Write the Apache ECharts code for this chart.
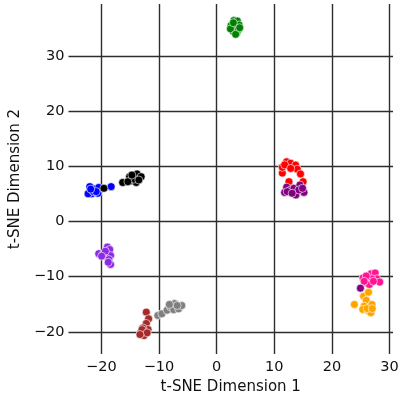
<!DOCTYPE html>
<html><head><meta charset="utf-8">
<script src="https://cdn.jsdelivr.net/npm/echarts@6/dist/echarts.min.js"></script>
<style>html,body{margin:0;padding:0;background:#fff}#c{width:403px;height:400px}</style>
</head><body><div id="c"></div>
<script>
const tickValues = [-20, -10, 0, 10, 20, 30];
const xRange = [-25.7, 30.6];
const yRange = [-24.05, 39.4];

const green = [[2.5,35.5],[3.0,36.4],[3.6,36.3],[3.9,35.6],[2.8,34.5],[3.5,34.2],[3.1,35.2],[2.4,34.9],[3.8,34.8],[3.3,33.9],[2.9,36.0],[4.0,35.1]];
const blue = [[-22.0,6.3],[-21.7,5.0],[-22.3,5.0],[-21.15,5.85],[-20.6,5.1],[-20.45,6.15],[-21.4,5.4],[-18.3,6.3],[-20.9,5.4],[-21.85,5.85]];
const black = [[-16.3,7.05],[-15.1,8.1],[-14.8,7.35],[-13.8,8.6],[-13.1,8.1],[-13.95,7.05],[-14.35,7.65],[-13.5,7.5],[-15.4,7.2],[-14.7,8.4],[-19.55,6.0]];
const violet = [[-20.45,-5.85],[-19.7,-6.0],[-18.95,-4.65],[-18.55,-5.1],[-18.4,-6.2],[-18.7,-6.9],[-18.4,-7.8],[-19.3,-5.4],[-19.95,-6.3],[-18.8,-7.4]];
const brown = [[-12.2,-16.45],[-11.8,-17.65],[-12.2,-18.5],[-11.9,-19.6],[-12.8,-19.3],[-13.2,-20.2],[-12.6,-20.7],[-12.95,-19.6],[-12.05,-20.2],[-13.3,-20.5]];
const gray = [[-10.2,-17.05],[-9.5,-16.75],[-8.6,-16.1],[-8.0,-15.5],[-7.3,-14.9],[-7.45,-16.0],[-6.6,-15.85],[-6.05,-15.25],[-6.85,-15.25],[-8.2,-15.05]];
const red = [[11.4,8.75],[11.4,9.8],[12.15,10.8],[12.85,10.55],[13.7,10.2],[14.0,9.45],[14.55,8.6],[15.0,7.2],[12.55,7.2],[11.8,10.25],[12.85,9.6]];
const purple = [[11.8,5.25],[12.15,6.2],[12.85,5.7],[13.4,6.0],[13.75,4.8],[14.45,6.6],[15.15,5.25],[14.25,5.7],[12.25,5.4],[13.1,5.1],[14.9,6.0],[24.95,-12.1]];
const pink = [[25.4,-10.25],[26.1,-11.15],[26.8,-9.5],[27.5,-9.35],[27.8,-10.4],[28.3,-11.0],[26.95,-10.4],[25.95,-9.9],[26.5,-11.45],[27.2,-10.85],[25.6,-10.85]];
const orange = [[23.9,-15.05],[25.5,-13.55],[26.35,-12.85],[25.95,-14.3],[25.6,-15.35],[25.35,-15.95],[26.35,-16.25],[26.95,-15.05],[26.75,-16.55],[26.1,-15.8],[27.0,-15.8]];

const groups = [
  ['green', green, '#008000'],
  ['blue', blue, '#0000ff'],
  ['black', black, '#000000'],
  ['violet', violet, '#8a2be2'],
  ['brown', brown, '#a52a2a'],
  ['gray', gray, '#808080'],
  ['red', red, '#ff0000'],
  ['purple', purple, '#800080'],
  ['pink', pink, '#ff1493'],
  ['orange', orange, '#ffa500']
];

const font = 'DejaVu Sans';
const fmt = v => (v < 0 ? '\u2212' + Math.abs(v) : String(v));
const axisCommon = {
  type: 'value',
  axisLine: {show: false},
  axisTick: {show: false, customValues: tickValues},
  splitLine: {show: true, lineStyle: {color: '#2e2e2e', width: 1.4}},
  nameLocation: 'middle',
  nameTextStyle: {fontFamily: font, fontSize: 15, color: '#111'}
};

const chart = echarts.init(document.getElementById('c'), null, {renderer: 'canvas'});
chart.setOption({
  animation: false,
  backgroundColor: '#fff',
  grid: {left: 67, right: 10, top: 4, bottom: 45},
  xAxis: Object.assign({}, axisCommon, {
    min: xRange[0], max: xRange[1],
    name: 't-SNE Dimension 1', nameGap: 24,
    axisLabel: {customValues: tickValues, formatter: fmt, fontFamily: font, fontSize: 14.5, color: '#111', margin: 6}
  }),
  yAxis: Object.assign({}, axisCommon, {
    min: yRange[0], max: yRange[1],
    name: 't-SNE Dimension 2', nameGap: 41,
    axisLabel: {customValues: tickValues, formatter: fmt, fontFamily: font, fontSize: 14.5, color: '#111', margin: 4}
  }),
  series: groups.map(g => ({
    type: 'scatter', name: g[0], data: g[1],
    symbolSize: 8,
    itemStyle: {color: g[2], borderColor: '#fff', borderWidth: 0.6, opacity: 1}
  }))
});
</script></body></html>
